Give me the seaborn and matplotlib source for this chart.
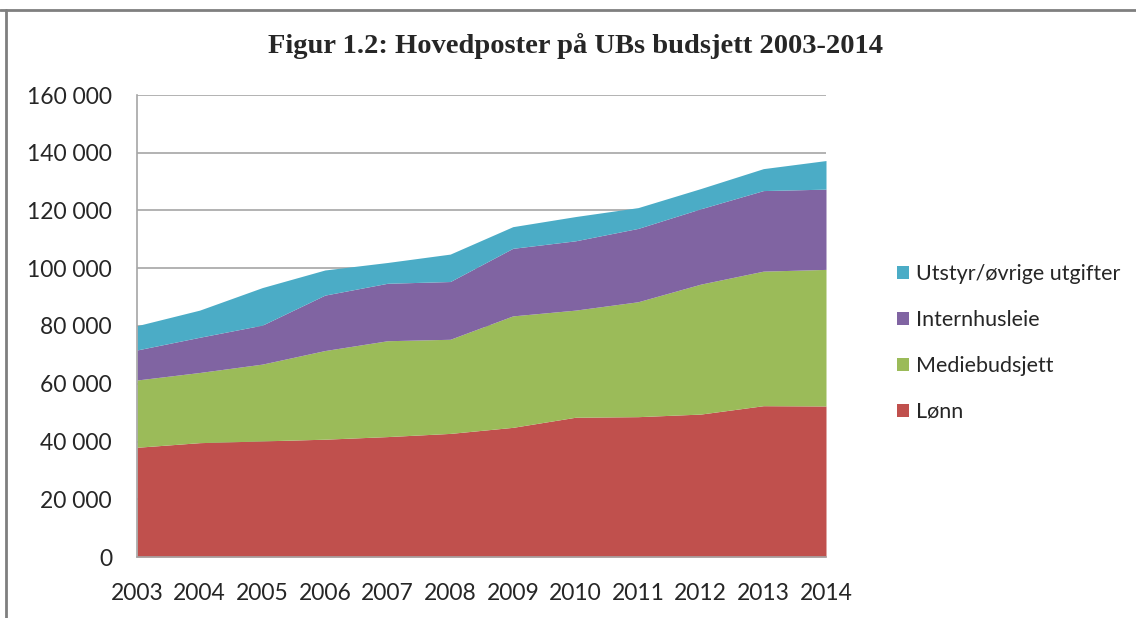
import matplotlib
matplotlib.use("Agg")
import matplotlib.pyplot as plt
import matplotlib.ticker as mtick
import numpy as np
import seaborn as sns

# Budget items, NOK 1000
years = [2003, 2004, 2005, 2006, 2007, 2008, 2009, 2010, 2011, 2012, 2013, 2014]
lonn = [38000, 39600, 40200, 40800, 41700, 42800, 44900, 48400, 48600, 49500, 52400, 52300]
mediebudsjett = [23300, 24300, 26600, 30700, 33200, 32600, 38600, 37100, 39800, 45000, 46600, 47300]
internhusleie = [10400, 12200, 13500, 19200, 19900, 20000, 23400, 24000, 25400, 26100, 27900, 27800]
utstyr = [8400, 9400, 13000, 8700, 7200, 9500, 7500, 8400, 7200, 7000, 7600, 9900]

labels = ["Lønn", "Mediebudsjett", "Internhusleie", "Utstyr/øvrige utgifter"]
colors = ["#c0504d", "#9bbb59", "#8064a2", "#4bacc6"]
title = "Figur 1.2: Hovedposter på UBs budsjett 2003-2014"

sns.set_theme(style="white")
plt.rcParams["font.family"] = ["Lato", "DejaVu Sans"]

fig = plt.figure(figsize=(11.36, 6.18), dpi=100)
ax = fig.add_axes([137 / 1136, 1 - 557 / 618, (826 - 137) / 1136, (557 - 95) / 618])

ax.stackplot(years, lonn, mediebudsjett, internhusleie, utstyr,
             labels=labels, colors=colors, lw=0)

ax.set_xlim(years[0], years[-1])
ax.set_ylim(0, 160000)
ax.set_xticks(years)
ax.set_yticks(np.arange(0, 160001, 20000))
ax.yaxis.set_major_formatter(mtick.FuncFormatter(lambda v, _: f"{int(v):,}".replace(",", " ")))
ax.grid(axis="y", color="#a6a6a6", lw=1.2)
ax.set_axisbelow(True)
for side in ["top", "right"]:
    ax.spines[side].set_visible(False)
for side in ["left", "bottom"]:
    ax.spines[side].set_color("#a6a6a6")
    ax.spines[side].set_linewidth(1.2)
ax.tick_params(axis="y", length=0, labelsize=16.5, pad=18)
ax.tick_params(axis="x", length=0, labelsize=16.5, pad=19)

handles, labs = ax.get_legend_handles_labels()
ax.legend(handles[::-1], labs[::-1], loc="center left", bbox_to_anchor=(1.075, 0.463),
          frameon=False, fontsize=15.5, handlelength=0.55, handleheight=0.55,
          handletextpad=0.35, labelspacing=1.2)

fig.text(575 / 1136, 1 - 46 / 618, title, ha="center", va="center",
         fontsize=20.5, fontweight="bold", family="Liberation Serif")

# outer frame of the original figure
fig.add_artist(plt.Line2D([0, 1], [1 - 10 / 618] * 2, color="#7f7f7f", lw=2))
fig.add_artist(plt.Line2D([6 / 1136] * 2, [0, 1 - 10 / 618], color="#7f7f7f", lw=2))

fig.savefig("out.png", dpi=100)
